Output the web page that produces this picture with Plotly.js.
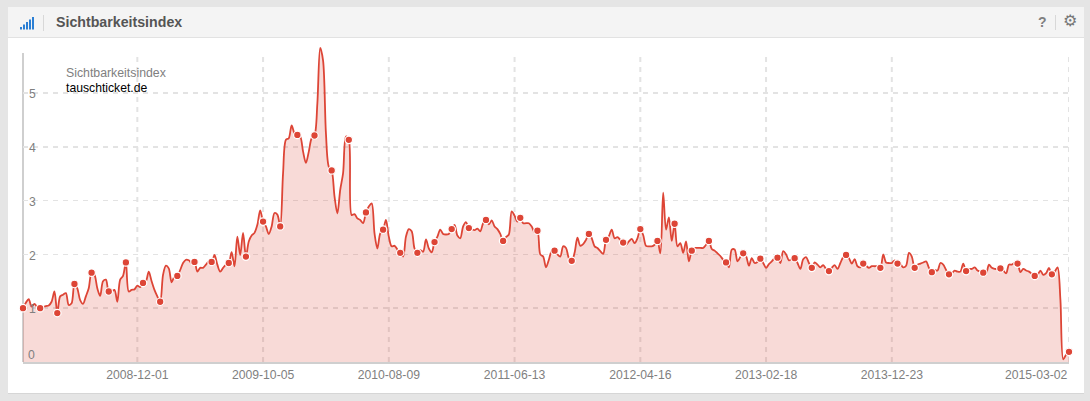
<!DOCTYPE html>
<html><head><meta charset="utf-8">
<script src="https://cdn.plot.ly/plotly-3.0.1.min.js"></script>
<style>html,body{margin:0;padding:0;background:#e5e5e5}#c{width:1090px;height:401px}</style>
</head><body><div id="c"></div>
<script>
const cardTitle = "Sichtbarkeitsindex";
const seriesLabel = "Sichtbarkeitsindex";
const domainName = "tauschticket.de";
const firstWeek = "2008-02-25";
const lastWeek = "2015-03-02";
const tickDates = ["2008-12-01","2009-10-05","2010-08-09","2011-06-13","2012-04-16","2013-02-18","2013-12-23","2015-03-02"];
const yTicks = [1,2,3,4,5];
// weekly index values; every sixth value carries a marker
const values = [
1.00,1.10,1.17,1.03,1.08,1.02,
1.00,1.02,1.04,1.05,1.12,1.31,
0.91,1.22,1.25,1.28,1.06,1.09,
1.45,1.37,1.15,1.08,1.22,1.37,
1.66,1.62,1.37,1.23,1.50,1.53,
1.31,1.31,1.34,1.12,1.53,1.60,
1.85,1.31,1.34,1.35,1.42,1.39,
1.47,1.50,1.68,1.50,1.34,1.22,
1.12,1.62,1.79,1.74,1.48,1.59,
1.60,1.71,1.84,1.90,1.89,1.84,
1.86,1.68,1.75,1.75,1.81,1.87,
1.86,1.99,1.81,1.68,1.75,1.81,
1.84,2.04,1.78,2.33,1.99,2.40,
1.96,2.24,2.35,2.40,2.55,2.82,
2.61,2.52,2.38,2.52,2.77,2.74,
2.52,3.51,4.13,4.16,4.40,4.25,
4.22,4.19,3.91,3.70,3.91,4.16,
4.21,4.81,5.84,5.60,4.25,3.63,
3.56,3.08,2.76,3.20,3.51,4.19,
4.13,2.73,2.75,2.67,2.64,2.58,
2.78,2.89,2.95,2.39,2.11,2.39,
2.46,2.64,2.33,2.15,2.16,2.09,
2.03,1.96,2.33,2.47,2.43,2.11,
2.03,2.08,2.05,2.28,2.11,2.04,
2.23,2.33,2.46,2.38,2.37,2.38,
2.47,2.55,2.35,2.30,2.52,2.60,
2.49,2.47,2.45,2.48,2.43,2.58,
2.64,2.56,2.63,2.52,2.47,2.38,
2.25,2.32,2.37,2.80,2.72,2.61,
2.68,2.58,2.58,2.58,2.52,2.41,
2.44,2.00,1.96,1.76,1.90,2.06,
2.07,2.00,1.96,2.15,2.12,1.93,
1.88,2.03,2.31,2.16,2.19,2.27,
2.38,2.30,2.15,2.12,2.06,2.01,
2.27,2.34,2.46,2.30,2.32,2.27,
2.22,2.18,2.24,2.29,2.21,2.30,
2.47,2.36,2.16,2.15,2.15,2.18,
2.25,2.02,3.15,2.46,2.69,2.25,
2.57,2.15,2.21,2.03,2.24,1.87,
2.07,2.12,2.12,2.12,2.12,2.18,
2.25,2.10,2.07,2.02,1.97,1.90,
1.85,1.76,2.09,2.09,1.87,1.95,
2.02,1.97,1.79,1.93,1.84,1.86,
1.92,1.84,1.75,1.82,1.87,1.93,
1.94,1.84,2.06,2.00,1.89,1.91,
1.93,1.84,1.73,1.91,1.95,1.84,
1.75,1.85,1.81,1.76,1.80,1.73,
1.69,1.75,1.80,1.73,1.84,1.95,
1.99,1.93,1.83,1.91,1.78,1.76,
1.83,1.79,1.75,1.78,1.78,1.78,
1.75,2.00,1.85,1.84,1.84,1.89,
1.83,1.82,1.76,1.79,2.03,1.96,
1.75,1.81,1.83,1.85,1.87,1.75,
1.67,1.71,1.70,1.84,1.81,1.71,
1.63,1.65,1.70,1.68,1.68,1.83,
1.69,1.73,1.73,1.76,1.70,1.68,
1.66,1.65,1.81,1.75,1.73,1.73,
1.74,1.70,1.65,1.81,1.81,1.84,
1.83,1.67,1.73,1.70,1.68,1.64,
1.60,1.62,1.70,1.62,1.65,1.75,
1.63,1.68,1.76,1.15,0.05,0.14,
0.19
];

const start = Date.parse(firstWeek + "T00:00:00Z");
const dates = values.map((_, i) => new Date(start + i * 7 * 864e5).toISOString().slice(0, 10));
const markIdx = values.map((_, i) => i).filter(i => i % 6 === 0);
const red = "#dd4536";

const M = {l:23, r:21, t:44, b:39};
const PW = 1090 - M.l - M.r, PH = 401 - M.t - M.b;
const fx = x => (x - M.l) / PW;
const fy = y => 1 - (y - M.t) / PH;
const yTop = PH / 53.8;

const rect = (x0, y0, x1, y1, color) => ({type:"rect", xref:"paper", yref:"paper", layer:"below",
  x0:fx(x0), x1:fx(x1), y0:fy(y1), y1:fy(y0), fillcolor:color, line:{width:0}});
const bars = [[20,27],[23,24.5],[26,22],[29,19.5],[32,17]];
const shapes = [
  rect(8,8,1084,394,"#d6d6d6"),
  rect(8,7,1084,393,"#ffffff"),
  rect(8,7,1084,37,"#f4f4f4"),
  rect(8,37,1084,38,"#e2e2e2"),
  rect(43,15,44,31,"#d8d8d8"),
  rect(1055,15,1056,30,"#d8d8d8")
].concat(bars.map(b => rect(b[0], b[1], b[0]+2, 29.5, "#2b7fd4")));
// vertical grid stops below the peak's overshoot, as does the left axis rule
tickDates.forEach(d => shapes.push({type:"line", layer:"below", xref:"x", yref:"paper", x0:d, x1:d,
  y0:0, y1:fy(53), line:{color:"#e3e3e3", width:2, dash:"5px,5px"}}));
shapes.push(rect(22,53,24,362,"#cfcfcf"));

const px = (x, y, text, font, anchor) => ({xref:"paper", yref:"paper", x:fx(x), y:fy(y), text,
  showarrow:false, xanchor:anchor||"left", yanchor:"middle", font, borderpad:0, borderwidth:0});
const family = "Liberation Sans, Arial, sans-serif";
const grayFont = {family, size:12.2, color:"#808080"};
const annotations = [
  px(56, 22, "<b>" + cardTitle + "</b>", {family, size:14.2, color:"#555"}),
  px(66, 73, seriesLabel, {family, size:12.3, color:"#808080"}),
  px(66, 88, domainName, {family, size:12.2, color:"#000"}),
  px(28, 355, "0", grayFont),
  px(1042, 22, "<b>?</b>", {family, size:14, color:"#808080"}, "center"),
  px(1070, 21, "<b>⚙</b>", {family:"DejaVu Sans, sans-serif", size:16, color:"#777"}, "center"),
  {xref:"x", yref:"paper", x:tickDates[tickDates.length-1], y:fy(375), text:tickDates[tickDates.length-1],
   showarrow:false, xanchor:"right", yanchor:"middle", font:grayFont, borderpad:0}
];

const traces = [
  {type:"scatter", mode:"lines", x:dates, y:values, cliponaxis:false, hoverinfo:"skip",
   line:{color:red, width:1.8, shape:"spline", smoothing:0.9},
   fill:"tozeroy", fillcolor:"rgba(221,69,54,0.2)"},
  {type:"scatter", mode:"markers", x:markIdx.map(i => dates[i]), y:markIdx.map(i => values[i]), cliponaxis:false,
   marker:{color:red, size:7.5, line:{color:"#fff", width:1.2}}}
];
const layout = {
  width:1090, height:401, showlegend:false,
  paper_bgcolor:"#e5e5e5", plot_bgcolor:"rgba(0,0,0,0)",
  margin:{l:M.l, r:M.r, t:M.t, b:M.b, pad:0},
  xaxis:{type:"date", range:[firstWeek, lastWeek], tickmode:"array", tickvals:tickDates,
    ticktext:tickDates.map((d,i) => i === tickDates.length-1 ? "" : d),
    ticks:"", showgrid:false, ticklabelstandoff:0,
    showline:true, linecolor:"#cfcfcf", linewidth:2, zeroline:false, tickfont:grayFont, automargin:false},
  yaxis:{range:[0,yTop], tickmode:"array", tickvals:yTicks, ticks:"", showgrid:true,
    gridcolor:"#e3e3e3", gridwidth:1.5, griddash:"5px,5px", showline:false,
    zeroline:false, ticklabelposition:"inside", ticklabelstandoff:3, ticklabelshift:1, tickfont:grayFont, automargin:false},
  shapes, annotations
};
Plotly.newPlot("c", traces, layout, {displayModeBar:false, staticPlot:true});
</script></body></html>
